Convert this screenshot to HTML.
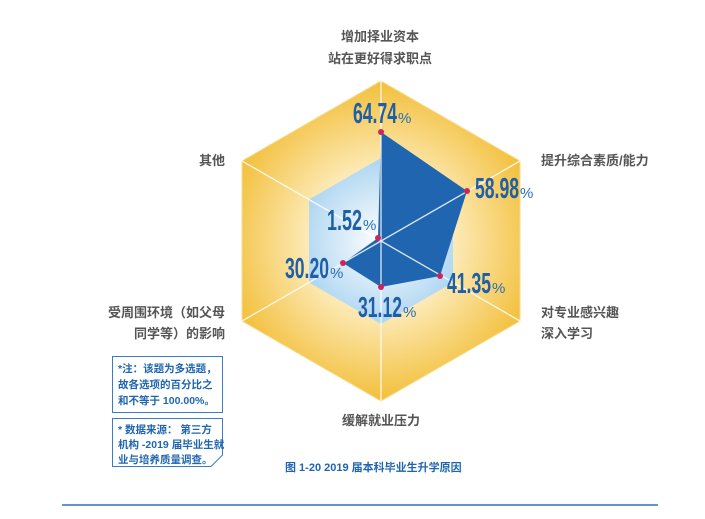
<!DOCTYPE html>
<html><head><meta charset="utf-8"><style>
html,body{margin:0;padding:0;background:#fff;}
svg{display:block;}
.lb{font-family:"Liberation Sans","Noto Sans CJK SC",sans-serif;font-size:13px;font-weight:bold;fill:#555;}
.num{font-family:"Liberation Sans Narrow","Liberation Sans",sans-serif;font-size:29px;font-weight:bold;fill:#1f5fa8;}
.pc{font-family:"Liberation Sans",sans-serif;font-size:15px;fill:#2a6db8;}
.nt{font-family:"Liberation Sans","Noto Sans CJK SC",sans-serif;font-size:10.5px;font-weight:bold;fill:#1f65b0;}
</style></head><body>
<svg width="705" height="519" viewBox="0 0 705 519">
<defs>
<radialGradient id="g" cx="381" cy="241" r="165" gradientUnits="userSpaceOnUse">
<stop offset="0" stop-color="#ffffff"/><stop offset="0.4" stop-color="#fdedc0"/><stop offset="1" stop-color="#f2bd34"/>
</radialGradient>
<radialGradient id="gb" cx="381" cy="241" r="90" gradientUnits="userSpaceOnUse">
<stop offset="0" stop-color="#ffffff"/><stop offset="1" stop-color="#a6d2f0"/>
</radialGradient>
</defs>
<polygon points="381,81 520,161 520,321 381,401 242,321 242,161" fill="url(#g)" stroke="#f7dc8c" stroke-width="1"/>
<polygon points="381,158 453,199.5 453,282.5 381,324 309,282.5 309,199.5" fill="url(#gb)"/>
<polygon points="381,132 467,191 440,276 381,287 343,263 378,238" fill="#1f65b0"/>
<g stroke="#fff" stroke-width="1.3" opacity="0.85">
<line x1="381" y1="241" x2="381" y2="81"/><line x1="381" y1="241" x2="520" y2="161"/>
<line x1="381" y1="241" x2="520" y2="321"/><line x1="381" y1="241" x2="381" y2="401"/>
<line x1="381" y1="241" x2="242" y2="321"/><line x1="381" y1="241" x2="242" y2="161"/>
</g>
<g fill="#d0245e">
<circle cx="381" cy="132" r="3"/><circle cx="467" cy="191" r="3"/><circle cx="440" cy="276" r="3"/>
<circle cx="381" cy="287" r="3"/><circle cx="343" cy="263" r="3"/><circle cx="378" cy="238" r="3"/>
</g>
<text class="num" x="353" y="123" textLength="44" lengthAdjust="spacingAndGlyphs">64.74</text><text class="pc" x="398" y="123">%</text>
<text class="num" x="475" y="198" textLength="44" lengthAdjust="spacingAndGlyphs">58.98</text><text class="pc" x="520" y="198">%</text>
<text class="num" x="327" y="230" textLength="35" lengthAdjust="spacingAndGlyphs">1.52</text><text class="pc" x="363" y="230">%</text>
<text class="num" x="285" y="278" textLength="44" lengthAdjust="spacingAndGlyphs">30.20</text><text class="pc" x="330" y="278">%</text>
<text class="num" x="447" y="293" textLength="44" lengthAdjust="spacingAndGlyphs">41.35</text><text class="pc" x="492" y="293">%</text>
<text class="num" x="358" y="317" textLength="44" lengthAdjust="spacingAndGlyphs">31.12</text><text class="pc" x="403" y="317">%</text>
<text class="lb" x="380" y="41" text-anchor="middle">增加择业资本</text>
<text class="lb" x="380" y="63" text-anchor="middle">站在更好得求职点</text>
<text class="lb" x="541" y="165">提升综合素质/能力</text>
<text class="lb" x="541" y="317">对专业感兴趣</text>
<text class="lb" x="541" y="338">深入学习</text>
<text class="lb" x="381" y="425" text-anchor="middle">缓解就业压力</text>
<text class="lb" x="225" y="165" text-anchor="end">其他</text>
<text class="lb" x="225" y="317" text-anchor="end">受周围环境（如父母</text>
<text class="lb" x="225" y="338" text-anchor="end">同学等）的影响</text>
<rect x="112.5" y="356.5" width="110" height="56" fill="#fff" stroke="#3b7cc4" stroke-width="1"/>
<text class="nt" x="118" y="372">*注：该题为多选题，</text>
<text class="nt" x="118" y="388">故各选项的百分比之</text>
<text class="nt" x="118" y="404">和不等于 100.00%。</text>
<polygon points="112.5,418.5 222.5,418.5 222.5,455 211,466.5 112.5,466.5" fill="#fff" stroke="#3b7cc4" stroke-width="1"/>
<text class="nt" x="118" y="433">* 数据来源： 第三方</text>
<text class="nt" x="118" y="448">机构 -2019 届毕业生就</text>
<text class="nt" x="118" y="463">业与培养质量调查。</text>
<text class="nt" x="285" y="471" style="font-size:11px">图 1-20  2019 届本科毕业生升学原因</text>
<line x1="62" y1="505" x2="658" y2="505" stroke="#2e74c0" stroke-width="1.5"/>
</svg>
</body></html>
